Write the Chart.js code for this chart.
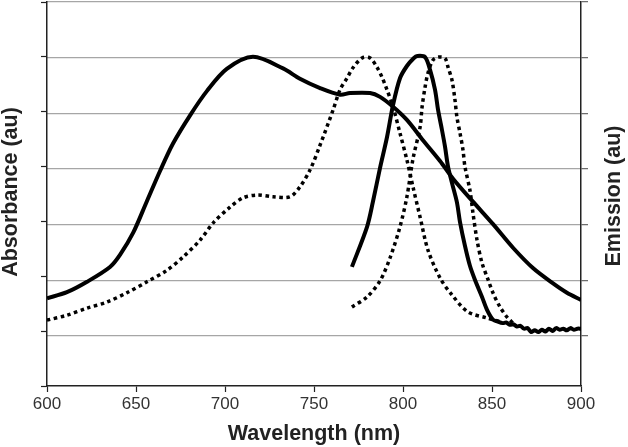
<!DOCTYPE html>
<html>
<head>
<meta charset="utf-8">
<script src="https://cdn.jsdelivr.net/npm/chart.js@4/dist/chart.umd.min.js"></script>
<style>
  html, body { margin: 0; padding: 0; background: #fff; }
  #wrap { width: 628px; height: 447px; position: relative; }
</style>
</head>
<body>
<div id="wrap"><canvas id="c" width="628" height="447"></canvas></div>
<script>
// ---- Data ----
const xTicks = [600, 650, 700, 750, 800, 850, 900];
const leftTicks = [0, 1, 2, 3, 4, 5, 6, 7];
const rightTicks = [0, 1, 2, 3, 4, 5, 6];

// Absorbance, dye 1 (solid, left axis)
const absSolidX = [600, 611.2, 622.5, 635.4, 641, 648.5, 656, 663.5, 670.8, 680.3, 689.9, 701, 715.7, 732.6, 742.1, 753.4, 764.6, 770.2, 781.5, 787.1, 794.4, 802.2, 811.2, 820.8, 828.1, 839.3, 850.6, 861.8, 873, 884.3, 892.1, 900];
const absSolidY = [1.60, 1.71, 1.90, 2.17, 2.39, 2.80, 3.36, 3.92, 4.42, 4.93, 5.38, 5.78, 6.00, 5.79, 5.60, 5.43, 5.31, 5.34, 5.34, 5.27, 5.09, 4.85, 4.48, 4.10, 3.78, 3.36, 2.95, 2.52, 2.15, 1.87, 1.70, 1.57];

// Absorbance, dye 2 (dotted, left axis)
const absDotX = [600, 611.2, 622.5, 633.7, 644.9, 656.2, 667.4, 676.4, 686, 693.3, 702.8, 710.1, 718, 727, 736.5, 742.1, 747.8, 753.4, 760.7, 764.6, 768.5, 771.9, 777, 781.5, 785.4, 788.2, 791, 794.4, 798.3, 802.2, 805.6, 809.6, 814, 820.8, 827.5, 836.5, 847.2, 855];
const absDotY = [1.20, 1.29, 1.42, 1.53, 1.70, 1.90, 2.11, 2.35, 2.66, 2.97, 3.26, 3.43, 3.48, 3.45, 3.45, 3.63, 3.94, 4.39, 5.03, 5.40, 5.61, 5.80, 5.98, 5.98, 5.81, 5.63, 5.40, 5.09, 4.61, 4.12, 3.63, 3.08, 2.48, 1.97, 1.66, 1.35, 1.24, 1.17];

// Emission, dye 1 (solid, right axis)
const emSolidX = [771.3, 779.8, 783.1, 787.1, 791, 794.4, 798.3, 802.2, 806, 808, 812.4, 815.2, 818, 819.7, 821.9, 823.6, 825.3, 827.5, 830.3, 832, 834.8, 837.6, 840.4, 844.4, 847.2, 850.6, 853, 856, 858, 860, 862, 864, 866, 868, 870, 872, 874, 876, 878, 880, 882, 884, 886, 888, 890, 892, 894, 896, 898, 900];
const emSolidY = [1.24, 1.96, 2.41, 3.02, 3.57, 4.15, 4.63, 4.85, 4.99, 5.03, 5.01, 4.78, 4.42, 4.06, 3.70, 3.40, 3.04, 2.75, 2.40, 2.05, 1.62, 1.26, 1.01, 0.70, 0.47, 0.29, 0.26, 0.23, 0.24, 0.20, 0.21, 0.17, 0.18, 0.13, 0.14, 0.07, 0.10, 0.07, 0.11, 0.08, 0.13, 0.09, 0.14, 0.11, 0.13, 0.10, 0.14, 0.11, 0.13, 0.13];

// Emission, dye 2 (dotted, right axis)
const emDotX = [771.3, 779.8, 787.1, 792.7, 798.3, 802.2, 805.6, 809.6, 810.7, 812.4, 814, 816.9, 820, 823.6, 825.3, 827.5, 829.2, 830.3, 832, 833.7, 834.8, 837.6, 839.3, 841.6, 844.4, 847.8, 850.6, 854.5, 858.4, 861.8];
const emDotY = [0.52, 0.70, 0.99, 1.40, 1.96, 2.50, 3.18, 3.75, 4.11, 4.47, 4.72, 4.96, 5.01, 4.99, 4.83, 4.60, 4.24, 3.93, 3.65, 3.34, 3.04, 2.62, 2.21, 1.72, 1.31, 1.01, 0.77, 0.52, 0.34, 0.23];

const xTitle = 'Wavelength (nm)';
const leftTitle = 'Absorbance (au)';
const rightTitle = 'Emission (au)';

// ---- Build ----
const pts = (xs, ys) => xs.map((x, i) => ({ x: x, y: ys[i] }));
const FONT = '"Liberation Sans", Arial, Helvetica, sans-serif';

const titlePlugin = {
  id: 'axisTitles',
  afterDraw(chart) {
    const ctx = chart.ctx;
    const a = chart.chartArea;
    ctx.save();
    ctx.fillStyle = '#222';
    ctx.font = 'bold 21.5px ' + FONT;
    ctx.textAlign = 'center';
    ctx.textBaseline = 'middle';
    ctx.fillText(xTitle, (a.left + a.right) / 2, 434);
    ctx.save();
    ctx.translate(11, 192);
    ctx.rotate(-Math.PI / 2);
    ctx.fillText(leftTitle, 0, 0);
    ctx.restore();
    ctx.save();
    ctx.translate(614, 196);
    ctx.rotate(-Math.PI / 2);
    ctx.fillText(rightTitle, 0, 0);
    ctx.restore();
    ctx.restore();
  }
};

const solid = { borderColor: '#000', borderWidth: 4, pointRadius: 0, fill: false, tension: 0.3, borderJoinStyle: 'round' };
const dotted = { borderColor: '#000', borderWidth: 3.5, borderDash: [3.5, 3.5], borderCapStyle: 'butt', pointRadius: 0, fill: false, tension: 0.3 };

new Chart(document.getElementById('c'), {
  type: 'line',
  data: {
    datasets: [
      Object.assign({ label: 'Absorbance 1', data: pts(absSolidX, absSolidY), yAxisID: 'yL' }, solid),
      Object.assign({ label: 'Absorbance 2', data: pts(absDotX, absDotY), yAxisID: 'yL' }, dotted),
      Object.assign({ label: 'Emission 1', data: pts(emSolidX, emSolidY), yAxisID: 'yR' }, solid),
      Object.assign({ label: 'Emission 2', data: pts(emDotX, emDotY), yAxisID: 'yR' }, dotted)
    ]
  },
  options: {
    responsive: false,
    animation: false,
    layout: { padding: { top: 2, left: 0, right: 0, bottom: 0 } },
    plugins: { legend: { display: false }, tooltip: { enabled: false } },
    scales: {
      x: {
        type: 'linear', min: 600, max: 900,
        afterBuildTicks: s => { s.ticks = xTicks.map(v => ({ value: v })); },
        afterFit: s => { s.height = 61; },
        grid: { drawOnChartArea: false, tickLength: 6, tickColor: '#222', tickWidth: 1.2 },
        border: { color: '#222', width: 1.5 },
        ticks: { color: '#333', font: { family: FONT, size: 17 }, padding: 2, maxRotation: 0 }
      },
      yL: {
        type: 'linear', position: 'left', min: 0, max: 7,
        afterBuildTicks: s => { s.ticks = leftTicks.map(v => ({ value: v })); },
        afterFit: s => { s.width = 47; },
        grid: { drawOnChartArea: false, tickLength: 6, tickColor: '#222', tickWidth: 1.2 },
        border: { color: '#222', width: 1.5 },
        ticks: { display: false }
      },
      yR: {
        type: 'linear', position: 'right', min: -0.9, max: 6,
        afterBuildTicks: s => { s.ticks = rightTicks.map(v => ({ value: v })); },
        afterFit: s => { s.width = 47; },
        grid: { drawOnChartArea: true, color: '#a6a6a6', lineWidth: 1.3, tickLength: 7, tickColor: '#666', tickWidth: 1.2 },
        border: { color: '#222', width: 1.5 },
        ticks: { display: false }
      }
    }
  },
  plugins: [titlePlugin]
});
</script>
</body>
</html>
